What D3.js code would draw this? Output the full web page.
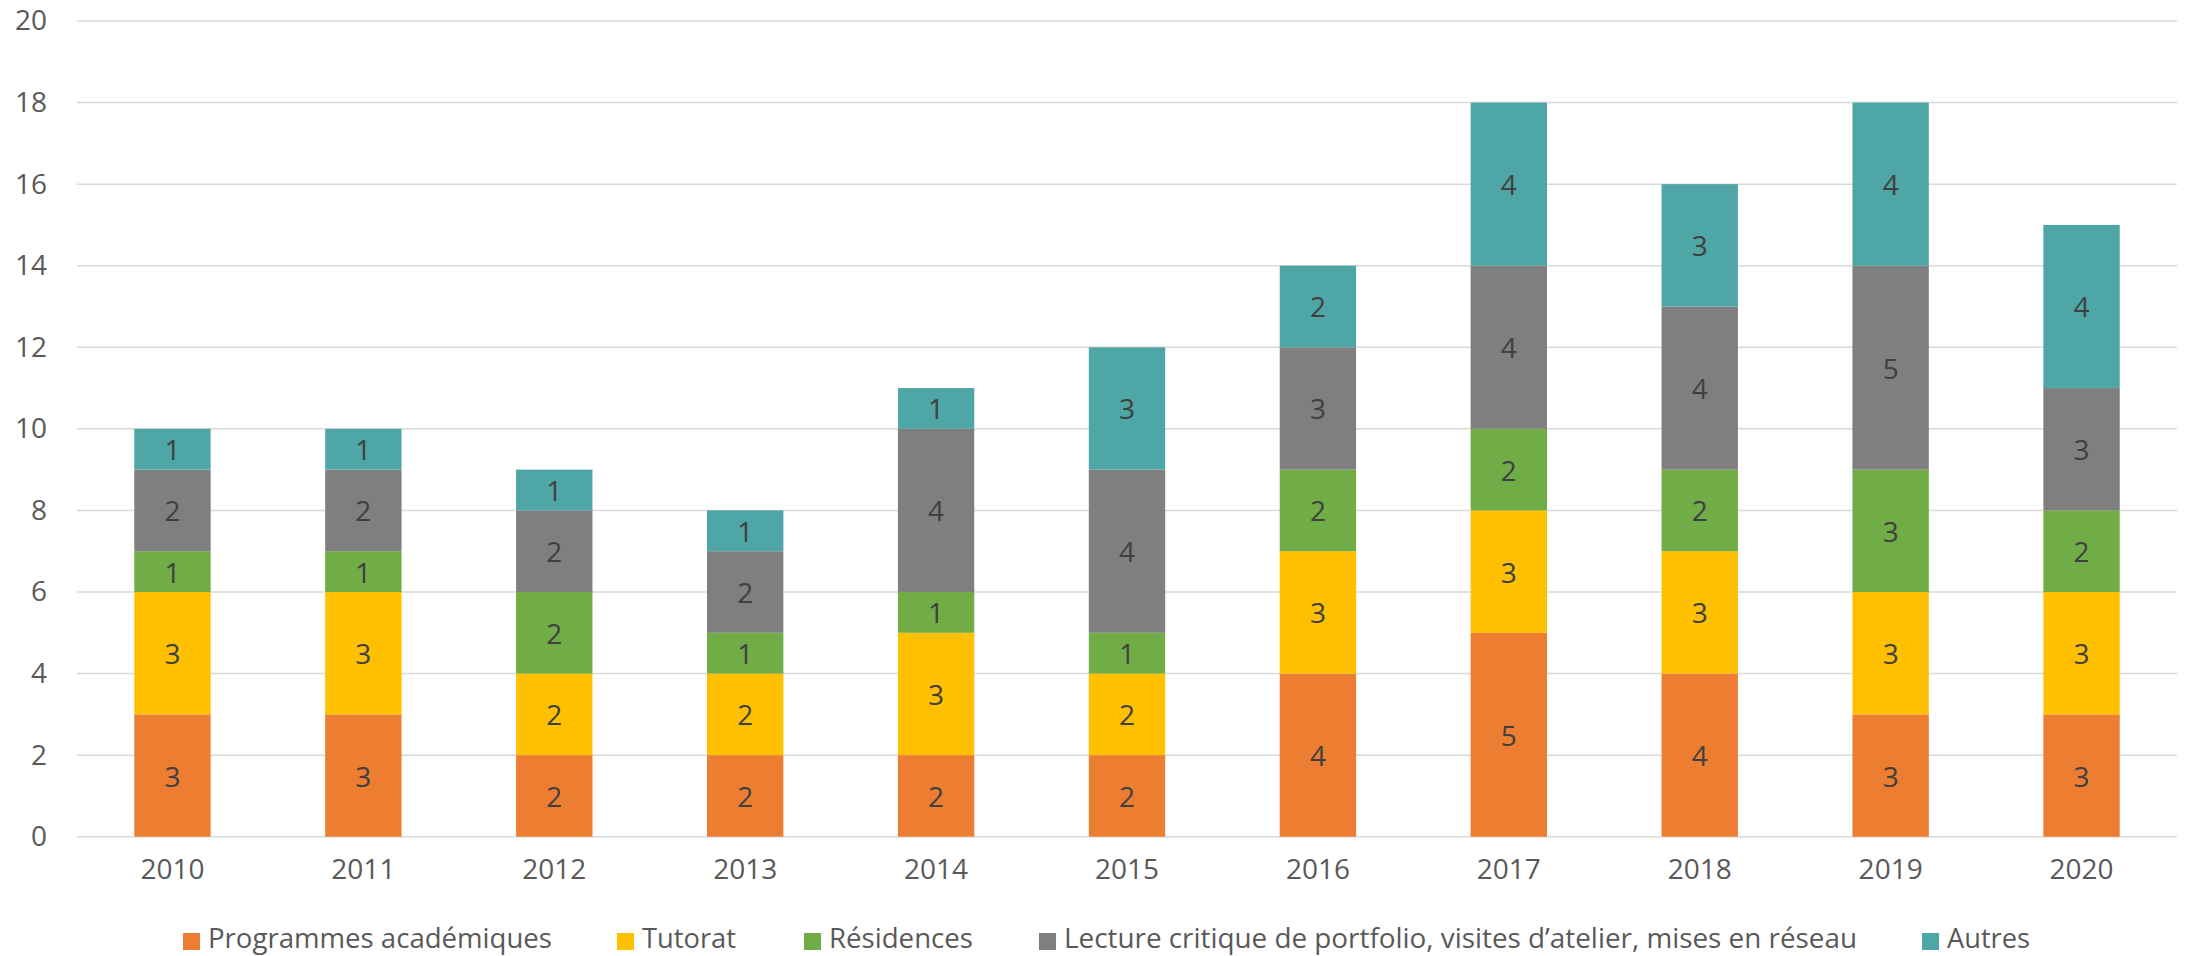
<!DOCTYPE html>
<html>
<head>
<meta charset="utf-8">
<script src="https://cdn.jsdelivr.net/npm/d3@7"></script>
<style>
  body { margin: 0; background: #fff; }
  svg { display: block; font-family: "Open Sans", sans-serif; }
</style>
</head>
<body>
<div id="chart"></div>
<script>
// Données
const annees = ["2010", "2011", "2012", "2013", "2014", "2015", "2016", "2017", "2018", "2019", "2020"];
const series = ["Programmes académiques", "Tutorat", "Résidences",
  "Lecture critique de portfolio, visites d’atelier, mises en réseau", "Autres"];
const programmes = [3, 3, 2, 2, 2, 2, 4, 5, 4, 3, 3];
const tutorat    = [3, 3, 2, 2, 3, 2, 3, 3, 3, 3, 3];
const residences = [1, 1, 2, 1, 1, 1, 2, 2, 2, 3, 2];
const lecture    = [2, 2, 2, 2, 4, 4, 3, 4, 4, 5, 3];
const autres     = [1, 1, 1, 1, 1, 3, 2, 4, 3, 4, 4];
const yTicks = [0, 2, 4, 6, 8, 10, 12, 14, 16, 18, 20];

const couleurs = ["#ED7D31", "#FFC000", "#70AD47", "#7F7F7F", "#4FA6A7"];

// Table pour d3.stack
const valeurs = [programmes, tutorat, residences, lecture, autres];
const table = annees.map((a, i) => {
  const row = { annee: a };
  series.forEach((s, j) => row[s] = valeurs[j][i]);
  return row;
});

const W = 2188, H = 956;
const plot = { left: 77, right: 2177, top: 21, bottom: 836.7 };

const svg = d3.select("#chart").append("svg")
  .attr("width", W).attr("height", H);

const x = d3.scaleBand()
  .domain(annees)
  .range([plot.left, plot.right])
  .paddingInner(0.6)
  .paddingOuter(0.3);

const y = d3.scaleLinear()
  .domain([0, 20])
  .range([plot.bottom, plot.top]);

// Grille horizontale
svg.append("g")
  .selectAll("line")
  .data(yTicks)
  .enter().append("line")
  .attr("x1", plot.left).attr("x2", plot.right)
  .attr("y1", d => y(d)).attr("y2", d => y(d))
  .attr("stroke", "#d9d9d9")
  .attr("stroke-width", 1.5);

// Axe Y (étiquettes seulement)
const axeY = svg.append("g")
  .attr("transform", `translate(${plot.left},0)`)
  .call(d3.axisLeft(y).tickValues(yTicks).tickSize(0).tickPadding(30));
axeY.select(".domain").remove();
axeY.selectAll("text")
  .attr("fill", "#595959")
  .style("font-size", "28px")
  .style("font-family", "Open Sans, sans-serif");

// Axe X
const axeX = svg.append("g")
  .attr("transform", `translate(0,${plot.bottom})`)
  .call(d3.axisBottom(x).tickSize(0).tickPadding(22));
axeX.select(".domain").remove();
axeX.selectAll("text")
  .attr("fill", "#595959")
  .style("font-size", "28px")
  .style("font-family", "Open Sans, sans-serif");

// Barres empilées
const stack = d3.stack().keys(series)(table);

const groupes = svg.append("g")
  .selectAll("g")
  .data(stack)
  .enter().append("g")
  .attr("fill", (d, i) => couleurs[i]);

groupes.selectAll("rect")
  .data(d => d)
  .enter().append("rect")
  .attr("x", d => x(d.data.annee))
  .attr("y", d => y(d[1]))
  .attr("width", x.bandwidth())
  .attr("height", d => y(d[0]) - y(d[1]));

// Étiquettes de données
groupes.selectAll("text")
  .data(d => d)
  .enter().append("text")
  .attr("x", d => x(d.data.annee) + x.bandwidth() / 2)
  .attr("y", d => (y(d[0]) + y(d[1])) / 2)
  .attr("text-anchor", "middle")
  .attr("dominant-baseline", "central")
  .attr("fill", "#404040")
  .style("font-size", "28px")
  .text(d => d[1] - d[0]);

// Légende
const legendeLargeurs = [344, 94, 144, 793, 83];
const legendeX = [183, 617, 804, 1039, 1922];
const legende = svg.append("g")
  .selectAll("g")
  .data(series)
  .enter().append("g")
  .attr("transform", (d, i) => `translate(${legendeX[i]},933)`);

legende.append("rect")
  .attr("width", 17).attr("height", 17)
  .attr("fill", (d, i) => couleurs[i]);

legende.append("text")
  .attr("x", 25)
  .attr("y", 15)
  .attr("fill", "#595959")
  .style("font-size", "28px")
  .attr("textLength", (d, i) => legendeLargeurs[i])
  .attr("lengthAdjust", "spacingAndGlyphs")
  .text(d => d);
</script>
</body>
</html>
